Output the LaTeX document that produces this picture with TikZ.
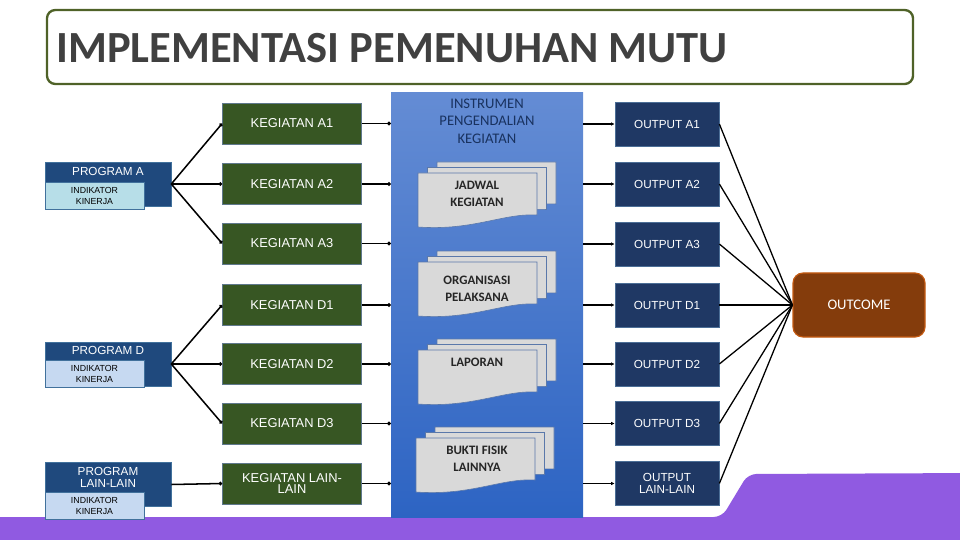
\documentclass[tikz,border=0pt]{standalone}
\usepackage{fontspec}
\setmainfont{Liberation Sans}
\newfontfamily\calib{Carlito}
\usetikzlibrary{arrows.meta}
\definecolor{progblue}{RGB}{31,73,125}
\definecolor{progedge}{RGB}{65,113,156}
\definecolor{indcyan}{RGB}{183,222,232}
\definecolor{indblue}{RGB}{198,217,241}
\definecolor{kegreen}{RGB}{55,86,35}
\definecolor{kegedge}{RGB}{95,120,140}
\definecolor{outnavy}{RGB}{31,56,100}
\definecolor{outedge}{RGB}{75,110,150}
\definecolor{outbrown}{RGB}{132,60,12}
\definecolor{outbrownedge}{RGB}{197,90,17}
\definecolor{instrtop}{RGB}{100,140,212}
\definecolor{instrbot}{RGB}{45,100,195}
\definecolor{instrtext}{RGB}{25,50,95}
\definecolor{docgray}{RGB}{217,217,217}
\definecolor{docedge}{RGB}{90,120,170}
\definecolor{bandpurple}{RGB}{144,90,225}
\definecolor{titlegreen}{RGB}{79,98,40}
\definecolor{titlegray}{RGB}{64,64,64}
\tikzset{
  docstack/.pic={
    \foreach \d in {2,1,0} {
      \begin{scope}[shift={(9.5*\d,-5.5*\d)}]
        \draw[docface] (0,0) -- (119,0) -- (119,42) .. controls (85,40) and (55,58) .. (0,54) -- cycle;
      \end{scope}
    }
  }
}
\begin{document}
\begin{tikzpicture}[x=0.03cm, y=-0.03cm,
    titlebox/.style={rectangle, draw=titlegreen, line width=2pt, rounded corners=0.25cm, minimum width=25.98cm, minimum height=2.22cm},
    program/.style={rectangle, fill=progblue, draw=progedge, line width=0.5pt, minimum width=3.78cm, minimum height=1.32cm},
    progtext/.style={text=white, font=\fontsize{10}{10.2}\selectfont, align=center, inner sep=0pt},
    indikator/.style={rectangle, draw=progedge, line width=0.5pt, minimum width=2.97cm, minimum height=0.81cm, font=\fontsize{7.5}{9.4}\selectfont, align=center, inner sep=0pt},
    kegiatan/.style={rectangle, fill=kegreen, draw=kegedge, line width=0.6pt, minimum width=4.17cm, minimum height=1.23cm, text=white, font=\fontsize{11}{10}\selectfont, align=center, inner sep=1pt},
    outbox/.style={rectangle, fill=outnavy, draw=outedge, line width=0.6pt, minimum width=3.12cm, minimum height=1.32cm, text=white, font=\fontsize{10}{10.2}\selectfont, align=center, inner sep=1pt},
    outcome/.style={rectangle, rounded corners=0.3cm, fill=outbrown, draw=outbrownedge, line width=1pt, minimum width=3.96cm, minimum height=1.92cm, text=white, font=\calib\fontsize{12.5}{14}\selectfont},
    instr/.style={rectangle, top color=instrtop, bottom color=instrbot, minimum width=5.76cm, minimum height=12.72cm},
    docface/.style={fill=docgray, draw=docedge, line width=0.5pt},
    doctext/.style={font=\calib\bfseries\fontsize{11}{14.5}\selectfont, align=center, text=black!85},
    link/.style={line width=1.3pt, -{Circle[length=3pt]}},
    feed/.style={line width=1.3pt, -{Latex[length=3pt,width=3pt]}},
    merge/.style={line width=1.1pt}
]
    \useasboundingbox (0,0) rectangle (960,540);

    % Purple band at the bottom
    \fill[bandpurple, rounded corners=0.25cm] (-20,517) -- (722,517) -- (748,474) -- (980,473) -- (980,560) -- (-20,560) -- cycle;

    % Title
    \node[titlebox] (title) at (480,47) {};
    \node[anchor=west, text=titlegray, font=\calib\bfseries\fontsize{38}{40}\selectfont, inner sep=0pt] (titletext) at (56,48) {IMPLEMENTASI PEMENUHAN MUTU};

    % Programs
    \node[program] (pA) at (108,184) {};
    \node[progtext] (pAtext) at (108,171) {PROGRAM A};
    \node[indikator, fill=indcyan] (iA) at (94.5,195.5) {INDIKATOR\\KINERJA};

    \node[program] (pD) at (108,364) {};
    \node[progtext] (pDtext) at (108,350) {PROGRAM D};
    \node[indikator, fill=indblue] (iD) at (94.5,374) {INDIKATOR\\KINERJA};

    \node[program] (pL) at (108,484.5) {};
    \node[progtext] (pLtext) at (108,477) {PROGRAM\\LAIN-LAIN};
    \node[indikator, fill=indblue] (iL) at (94.5,506) {INDIKATOR\\KINERJA};

    % Kegiatan
    \node[kegiatan] (kA1) at (292,123.5) {KEGIATAN A1};
    \node[kegiatan] (kA2) at (292,184) {KEGIATAN A2};
    \node[kegiatan] (kA3) at (292,243.5) {KEGIATAN A3};
    \node[kegiatan] (kD1) at (292,305) {KEGIATAN D1};
    \node[kegiatan] (kD2) at (292,364) {KEGIATAN D2};
    \node[kegiatan] (kD3) at (292,423.5) {KEGIATAN D3};
    \node[kegiatan] (kL) at (292,483.5) {KEGIATAN LAIN-\\LAIN};

    % Instrumen pengendalian
    \node[instr] (instr) at (487,305) {};
    \node[text=instrtext, font=\calib\fontsize{12.5}{14.8}\selectfont, align=center] (instrtitle) at (487,121) {INSTRUMEN\\PENGENDALIAN\\KEGIATAN};

    \pic at (418,173) {docstack};
    \node[doctext] (jadwal) at (477,194) {JADWAL\\KEGIATAN};
    \pic at (418,262) {docstack};
    \node[doctext] (organisasi) at (477,289) {ORGANISASI\\PELAKSANA};
    \pic at (418,350) {docstack};
    \node[doctext] (laporan) at (477,362) {LAPORAN};
    \pic at (416,438) {docstack};
    \node[doctext] (bukti) at (477,459) {BUKTI FISIK\\LAINNYA};

    % Outputs
    \node[outbox] (oA1) at (667,124) {OUTPUT A1};
    \node[outbox] (oA2) at (667,184) {OUTPUT A2};
    \node[outbox] (oA3) at (667,244) {OUTPUT A3};
    \node[outbox] (oD1) at (667,305) {OUTPUT D1};
    \node[outbox] (oD2) at (667,364) {OUTPUT D2};
    \node[outbox] (oD3) at (667,423.5) {OUTPUT D3};
    \node[outbox] (oL) at (667,483.5) {OUTPUT\\LAIN-LAIN};

    % Outcome
    \node[outcome] (outc) at (859,305) {OUTCOME};

    % Connectors
    \foreach \k in {A1,A2,A3} \draw[link] (pA.east) -- (k\k.west);
    \foreach \k in {D1,D2,D3} \draw[link] (pD.east) -- (k\k.west);
    \draw[link] (pL.east) -- (kL.west);
    \foreach \k in {A1,A2,A3,D1,D2,D3,L} {
        \draw[link] (k\k.east) -- (k\k.east -| instr.west);
        \draw[feed] (o\k.west -| instr.east) -- (o\k.west);
        \draw[merge] (o\k.east) -- (outc.west);
    }
\end{tikzpicture}
\end{document}
